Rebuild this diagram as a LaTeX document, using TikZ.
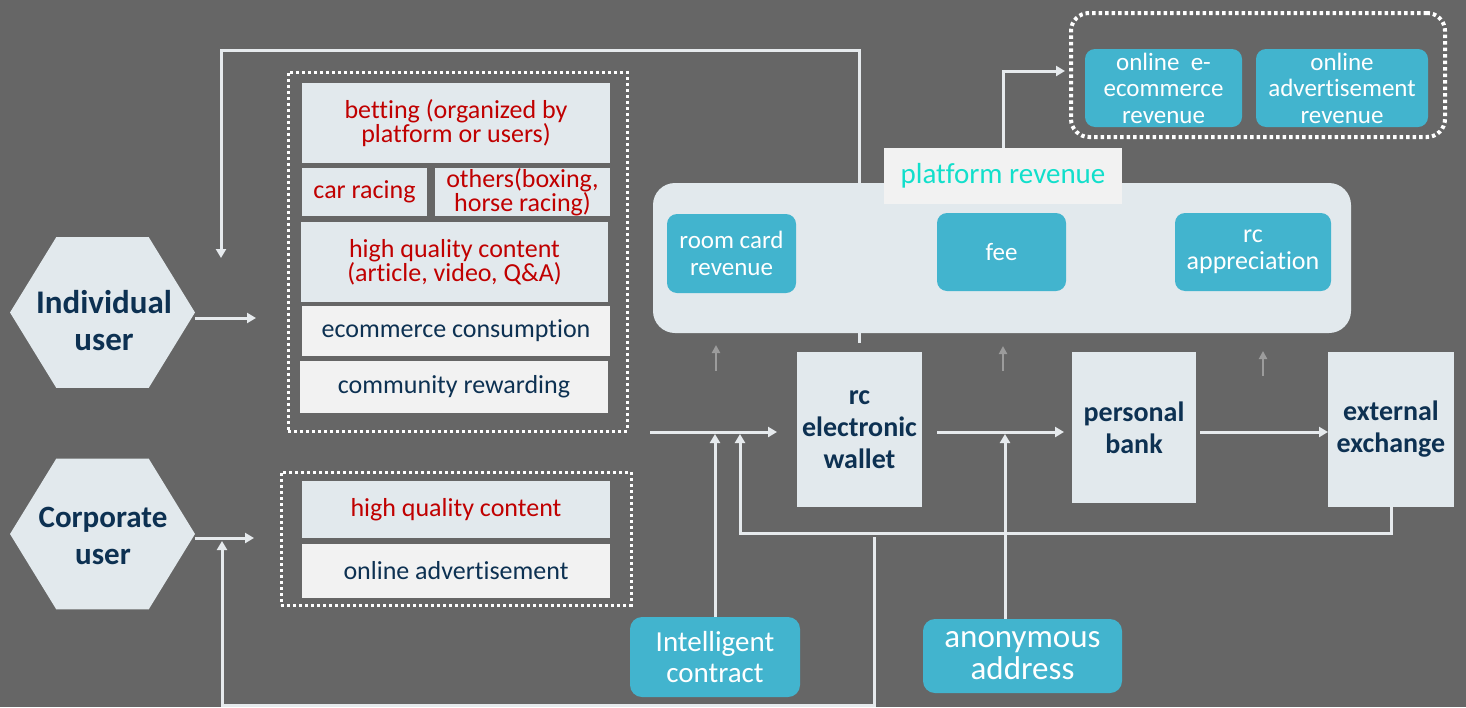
\documentclass[tikz,border=0pt]{standalone}
\usepackage{fontspec}
\setmainfont{Carlito}[Ligatures=NoCommon]
\usetikzlibrary{arrows.meta,shapes.geometric}

\definecolor{bgc}{HTML}{666666}
\definecolor{paleblue}{HTML}{E2E9ED}
\definecolor{offwhite}{HTML}{F2F2F2}
\definecolor{tealbox}{HTML}{42B4CE}
\definecolor{redtxt}{HTML}{C00000}
\definecolor{navy}{HTML}{0D3152}
\definecolor{linec}{HTML}{E6EAED}
\definecolor{cyantxt}{HTML}{12DFCB}
\definecolor{minorarr}{HTML}{9C9C9C}

\newcommand{\fsz}[2]{\fontsize{#1}{#2}\selectfont}

\begin{document}
\begin{tikzpicture}[x=1pt,y=-1pt,
  flow/.style={draw=linec, line width=3pt},
  arr/.style={flow, -{Triangle[length=9pt,width=10pt]}},
  minor/.style={draw=minorarr, line width=2pt, -{Triangle[length=8pt,width=8pt]}},
  hexa/.style={regular polygon, regular polygon sides=6, minimum size=174pt,
    inner sep=0pt, fill=paleblue, xscale=1.063, transform shape},
  usertxt/.style={text=navy, font=\bfseries\fsz{32}{37}, align=center},
  pale/.style={fill=paleblue, inner sep=0pt, align=center, text=redtxt, font=\fsz{26}{24}},
  light/.style={fill=offwhite, inner sep=0pt, align=center, text=navy, font=\fsz{26}{24}},
  dotbox/.style={draw=white, line width=3pt, dash pattern=on 3pt off 3pt},
  tealb/.style={fill=tealbox, rounded corners=10pt, inner sep=0pt, align=center, text=white, font=\fsz{25}{27}},
  stage/.style={fill=paleblue, inner sep=0pt, align=center, text=navy, font=\bfseries\fsz{28}{32},
    minimum width=125pt},
]
\fill[bgc] (0,0) rectangle (1466,707);
\useasboundingbox (0,0) rectangle (1466,707);

% ---------- users ----------
\node[hexa] (ind) at (102.5,312.5) {};
\node[usertxt, font=\bfseries\fsz{33}{37}] (indt) at (104,321) {Individual\\user};
\node[hexa] (corp) at (102.5,534) {};
\node[usertxt, font=\bfseries\fsz{31}{37}] (corpt) at (103,536) {Corporate\\user};

% ---------- individual user activities ----------
\node[dotbox, minimum width=339pt, minimum height=359pt] (g1) at (457.5,251.5) {};
\node[pale, minimum width=308pt, minimum height=80pt] (bet) at (456,123) {betting (organized by\\platform or users)};
\node[pale, minimum width=125pt, minimum height=48pt] (car) at (364.5,192) {car racing};
\node[pale, minimum width=175pt, minimum height=48pt] (oth) at (522.5,192) {others(boxing,\\horse racing)};
\node[pale, minimum width=307pt, minimum height=80pt] (hqc) at (454.5,262) {high quality content\\(article, video, Q\&A)};
\node[light, minimum width=308pt, minimum height=50pt] (eco) at (456,331) {ecommerce consumption};
\node[light, minimum width=308pt, minimum height=52pt] (com) at (454,387) {community rewarding};

% ---------- corporate user activities ----------
\node[dotbox, minimum width=350pt, minimum height=133pt] (g2) at (456,538.5) {};
\node[pale, minimum width=308pt, minimum height=57pt] (hqc2) at (456,509.5) {high quality content};
\node[light, minimum width=308pt, minimum height=54pt] (oad) at (456,571) {online advertisement};

% ---------- loops drawn behind the revenue panel ----------
\coordinate (wtop) at (859,343);
\coordinate (indloop) at (221,258);
\draw[arr] (wtop) |- (221,50) -- (indloop);

\coordinate (retstart) at (874,537);
\coordinate (corploop) at (222,541);
\draw[arr] (retstart) |- (222,705) -- (corploop);

% ---------- platform revenue ----------
\node[fill=paleblue, rounded corners=22pt, minimum width=698pt, minimum height=150pt] (plat) at (1002,258) {};
\node[fill=offwhite, inner sep=0pt, minimum width=238pt, minimum height=56pt, text=cyantxt, font=\fsz{29}{30}] (plabel) at (1003,176) {platform revenue};
\node[tealb, minimum width=129pt, minimum height=79pt] (room) at (731.5,253.5) {room card\\revenue};
\node[tealb, minimum width=129pt, minimum height=78pt] (fee) at (1001.5,252) {fee};
\node[tealb, minimum width=156pt, minimum height=78pt, font=\fsz{26}{27}] (rca) at (1253,252) {rc\\appreciation};

% ---------- online revenue ----------
\node[draw=white, line width=4pt, dash pattern=on 3.5pt off 3pt, rounded corners=18pt,
  minimum width=374pt, minimum height=124pt] (topdot) at (1258,75) {};
\node[tealb, minimum width=157pt, minimum height=78pt, font=\fsz{25}{26.5}] (oer) at (1163.5,88) {online~ e-\\ecommerce\\revenue};
\node[tealb, minimum width=172pt, minimum height=78pt, font=\fsz{25}{26.5}] (oar) at (1342,88) {online\\advertisement\\revenue};
\coordinate (toprev) at (1065,71);
\draw[arr] (plabel.north) |- (toprev);

% ---------- wallet chain ----------
\node[stage, minimum height=155pt] (wallet) at (859.5,429.5) {rc\\electronic\\wallet};
\node[stage, minimum width=124pt, minimum height=151pt] (bank) at (1134,427.5) {personal\\bank};
\node[stage, minimum width=126pt, minimum height=155pt] (exch) at (1391,429.5) {external\\exchange};

\node[tealb, rounded corners=12pt, minimum width=170pt, minimum height=80pt, font=\fsz{29}{31}] (ic) at (715,657) {Intelligent\\contract};
\node[tealb, rounded corners=12pt, minimum width=199pt, minimum height=74pt, font=\fsz{33}{32}] (aa) at (1022.5,656) {anonymous\\address};

% inputs to the users' activity blocks
\coordinate (indin) at (256,318);
\coordinate (corpin) at (254,538);
\draw[arr] (ind.east |- indin) -- (indin);
\draw[arr] (corp.east |- corpin) -- (corpin);

% flow into the wallet and onwards
\coordinate (win0) at (650,432);
\coordinate (win1) at (777,432);
\draw[arr] (win0) -- (win1);
\draw[arr] (ic.north) -- (715,434);
\draw[arr] (exch.south) |- (740,533) -- (740,434);
\coordinate (w2b0) at (937,432);
\coordinate (w2b1) at (1064,432);
\draw[arr] (w2b0) -- (w2b1);
\coordinate (aj) at (1005,434);
\draw[arr] (aj |- aa.north) -- (aj);
\coordinate (b2e0) at (1200,432);
\coordinate (b2e1) at (1328,432);
\draw[arr] (b2e0) -- (b2e1);

% small arrows up into the revenue panel
\coordinate (m1) at (716,345);
\coordinate (m2) at (1003,346);
\coordinate (m3) at (1263,351);
\draw[minor] (716,371) -- (m1);
\draw[minor] (1003,371) -- (m2);
\draw[minor] (1263,376) -- (m3);
\end{tikzpicture}
\end{document}
